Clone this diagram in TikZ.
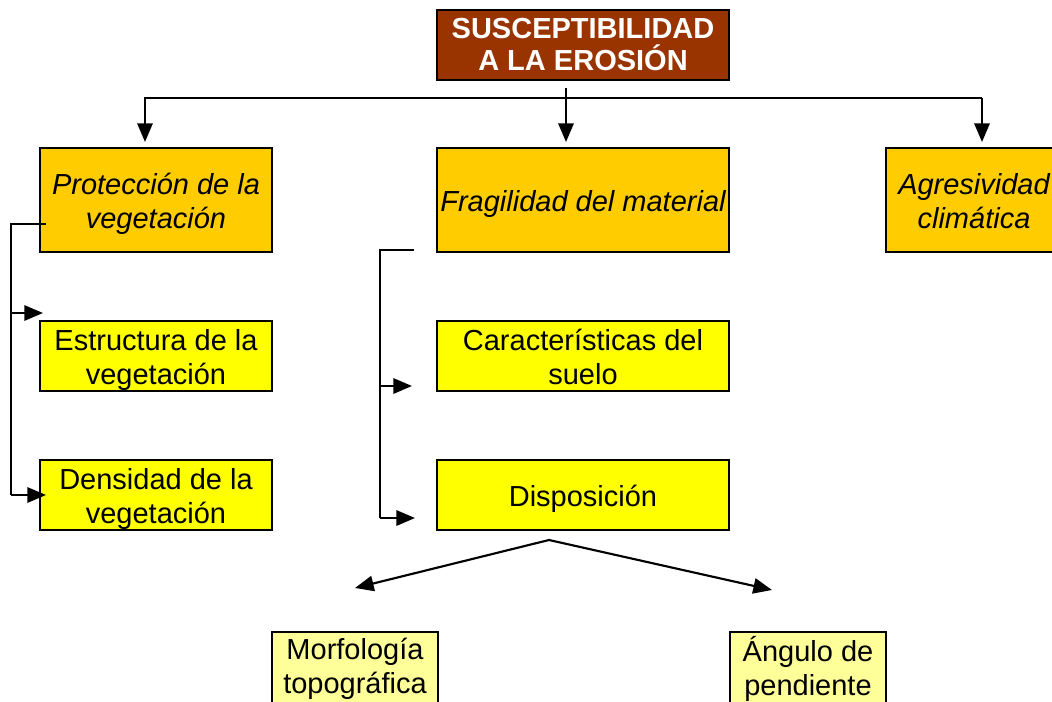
\documentclass[tikz,border=0pt]{standalone}
\usepackage{fontspec}
\setmainfont{Liberation Sans}
\usetikzlibrary{arrows.meta}

\definecolor{rootred}{HTML}{993300}
\definecolor{mainorange}{HTML}{FFCC00}
\definecolor{subyellow}{HTML}{FFFF00}
\definecolor{leafyellow}{HTML}{FFFF99}

% lines of a box, set a little lower
\newcommand\boxlines[1]{\raisebox{-3.5pt}[\height][\depth]{\begin{tabular}{@{}c@{}}#1\end{tabular}}}

\begin{document}
\begin{tikzpicture}[x=0.75pt, y=-0.75pt, line width=1.6pt,
  >={Triangle[length=14pt, width=11.5pt]},
  box/.style={draw=black, line width=1.5pt, inner sep=0pt, align=center,
    font=\fontsize{21.75}{25.5}\selectfont},
  rootbox/.style={box, fill=rootred, text=white, font=\fontsize{21.75}{24}\selectfont\bfseries,
    minimum width=219pt, minimum height=52.5pt},
  mainbox/.style={box, fill=mainorange, font=\fontsize{21.75}{25.5}\selectfont\itshape,
    minimum height=78pt},
  subbox/.style={box, fill=subyellow, minimum width=174pt, minimum height=52.5pt},
  leafbox/.style={box, fill=leafyellow, minimum height=55.5pt}]
  % Frame of the page
  \useasboundingbox (0,0) rectangle (1052,702);
  \clip (0,0) rectangle (1052,702);

  % Boxes
  \node[rootbox] (root) at (583,45) {SUSCEPTIBILIDAD\\A LA EROSIÓN};
  \node[mainbox, minimum width=174pt] (prot) at (156,200) {\boxlines{Protección de la\\vegetación}};
  \node[mainbox, minimum width=219pt] (frag) at (583,200) {\boxlines{Fragilidad del material}};
  \node[mainbox, minimum width=132pt] (agre) at (974,200) {\boxlines{Agresividad\\climática}};
  \node[subbox] (estr) at (156,356) {\boxlines{Estructura de la\\vegetación}};
  \node[subbox] (dens) at (156,495) {\boxlines{Densidad de la\\vegetación}};
  \node[subbox, minimum width=219pt] (cara) at (583,356) {\boxlines{Características del\\suelo}};
  \node[subbox, minimum width=219pt] (disp) at (583,495) {\boxlines{Disposición}};
  \node[leafbox, minimum width=124.5pt] (morf) at (355,669) {Morfología\\topográfica};
  \node[leafbox, minimum width=117pt] (angu) at (808,669) {Ángulo de\\pendiente};

  % Top distribution line
  \coordinate (bus) at (566,88);
  \coordinate (busL) at (145,98);
  \coordinate (busR) at (982,98);
  \draw[->, shorten >=3.75pt] (bus) -- (bus |- frag.north);
  \draw[->, shorten >=3.75pt] (busR) -- (busL) -- (busL |- prot.north);
  \draw[->, shorten >=3.75pt] (busR) -- (busR |- agre.north);

  % Left bracket
  \coordinate (protA) at (46,224);
  \coordinate (protB) at (11,224);
  \coordinate (protC) at (11,495);
  \coordinate (estrA) at (11,313);
  \coordinate (estrB) at (43,313);
  \draw (protA) -- (protB) -- (protC);
  \draw[->] (estrA) -- (estrB);
  \draw[->] (protC) -- ([xshift=5.25pt]dens.west);

  % Middle bracket
  \coordinate (fragA) at (414,250);
  \coordinate (fragB) at (380,250);
  \coordinate (fragC) at (380,518);
  \coordinate (caraA) at (380,386);
  \coordinate (caraB) at (412,386);
  \coordinate (dispB) at (415,518);
  \draw (fragA) -- (fragB) -- (fragC);
  \draw[->] (caraA) -- (caraB);
  \draw[->] (fragC) -- (dispB);

  % Split below Disposición
  \coordinate (split) at (549,540);
  \coordinate (morfA) at (355,588);
  \coordinate (anguA) at (772,590);
  \draw[->] (split) -- (morfA);
  \draw[->] (split) -- (anguA);
\end{tikzpicture}
\end{document}
